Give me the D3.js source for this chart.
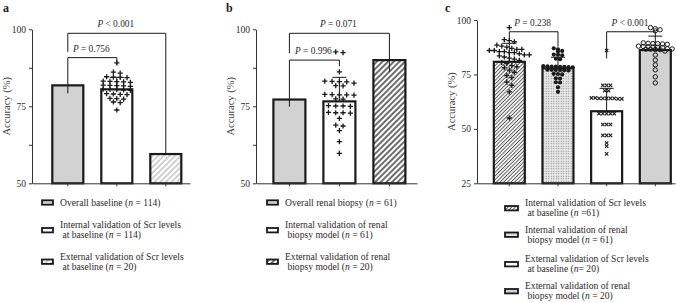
<!DOCTYPE html>
<html>
<head>
<meta charset="utf-8">
<script src="https://cdn.jsdelivr.net/npm/d3@7"></script>
<style>
  body { margin: 0; background: #fff; }
  svg, svg text { font-family: "Liberation Serif", "Times New Roman", serif; }
  svg { display: block; }
</style>
</head>
<body>
<svg id="chart" width="676" height="303"></svg>
<script>
// ---------- data ----------
const aCategories = ["overall", "internal", "external"];
const aMeans = [81.8, 80.5, 59.5];
const aSd = [0, 3.9, 0];
const aFills = ["grey", "white", "hatchLight"];
const aPoints = [89.1, 86.1, 85.8, 84.6, 84.4, 84.3, 84.5, 83.2, 83.0, 82.8, 83.1, 82.9,
    81.8, 81.7, 81.6, 81.9, 81.5, 80.5, 80.3, 80.4, 80.6, 80.2, 79.0, 78.8, 78.9, 79.1,
    77.5, 77.3, 77.6, 76.4, 76.2, 73.8];
const aBrackets = [
    { from: 0, to: 1, level: 90.8, leftEnd: 79.2, rightEnd: 88.5, text: " = 0.756" },
    { from: 0, to: 2, level: 98.7, leftEnd: 92.7, rightEnd: 59.5, text: " < 0.001" }
];
const aLegend = [
    ["Overall baseline (*n* = 114)"],
    ["Internal validation of Scr levels", " at baseline (*n* = 114)"],
    ["External validation of Scr levels", " at baseline (*n* = 20)"]
];

const bCategories = ["overall", "internal", "external"];
const bMeans = [77.2, 76.6, 90.0];
const bSd = [0, 7.8, 0];
const bFills = ["grey", "white", "hatchDark"];
const bPoints = [92.4, 92.7, 86.2, 83.2, 83.0, 83.1, 82.9, 82.5, 81.6, 81.7, 78.7, 78.6,
    78.9, 78.7, 78.8, 77.3, 77.4, 75.1, 75.2, 75.0, 75.1, 72.9, 73.0, 72.8, 72.9, 71.1,
    68.6, 68.9, 67.1, 63.5, 59.7];
const bBrackets = [
    { from: 0, to: 1, level: 90.0, leftEnd: 74.9, rightEnd: 88.0, text: " = 0.996" },
    { from: 0, to: 2, level: 98.7, leftEnd: 92.2, rightEnd: 86.2, text: " = 0.071" }
];
const bLegend = [
    ["Overall renal biopsy (*n* = 61)"],
    ["Internal validation of renal", " biopsy model (*n* = 61)"],
    ["External validation of renal", " biopsy model (*n* = 20)"]
];

const cCategories = ["intScr", "intBiopsy", "extScr", "extBiopsy"];
const cMeans = [80.8, 77.8, 58.1, 86.2];
const cSd = [8.5, 5.1, 10.5, 6.4];
const cFills = ["hatchDense", "dots", "white", "grey"];
const cMarkers = ["plus", "dot", "cross", "ring"];
const cPoints1 = [96.5, 91.0, 90.5, 90.0, 88.5, 88.0, 87.5, 87.0, 86.5, 86.5, 86.0, 86.0,
    85.5, 85.5, 85.0, 85.0, 84.5, 84.0, 84.0, 83.5, 83.0, 82.5, 82.0, 81.5, 80.5, 80.0,
    79.0, 78.5, 78.0, 77.0, 76.0, 74.5, 73.5, 71.5, 70.0, 67.0, 55.0];
const cPoints2 = [87.0, 86.5, 85.8, 85.5, 84.0, 83.8, 84.1, 82.0, 82.2, 78.8, 78.6, 78.5,
    78.7, 78.4, 78.6, 78.5, 78.3, 77.0, 77.2, 76.9, 77.1, 77.0, 76.8, 75.2, 75.3, 75.0,
    73.2, 73.1, 71.4, 71.3, 69.1, 67.0];
const cPoints3 = [86.0, 70.0, 70.0, 70.0, 67.5, 67.5, 64.0, 64.0, 64.2, 64.0, 63.8, 64.0,
    64.2, 63.8, 64.0, 57.0, 57.0, 57.0, 57.0, 57.0, 52.0, 52.0, 52.0, 47.0, 47.0, 47.0,
    43.5, 42.0, 38.5];
const cPoints4 = [96.5, 96.0, 95.5, 95.0, 89.5, 89.3, 89.0, 89.2, 88.8, 89.1, 88.0, 87.8,
    87.5, 87.6, 87.7, 87.4, 86.8, 86.6, 86.5, 86.7, 86.4, 86.6, 85.7, 83.9, 81.6, 79.4,
    77.1, 73.9, 71.1];
const cBrackets = [
    { from: 0, to: 1, level: 94.6, leftEnd: 90.8, rightEnd: 87.7, text: " = 0.238" },
    { from: 2, to: 3, level: 94.6, leftEnd: 82.4, rightEnd: 92.3, text: " < 0.001" }
];
const cLegend = [
    ["Internal validation of Scr levels", " at baseline (*n* =61)"],
    ["Internal validation of renal", " biopsy model (*n* = 61)"],
    ["External validation of Scr levels", " at baseline (*n*= 20)"],
    ["External validation of renal", " biopsy model (*n* = 20)"]
];

const ink = "#1a1a1a";
const textColor = "#2b2b2b";
const serif = "Liberation Serif";

let svg = d3.select("#chart");

// ---------- fill patterns ----------
let defs = svg.append("defs");
function addHatch(id, spacing, color, strokeWidth) {
    let p = defs.append("pattern")
        .attr("id", id)
        .attr("patternUnits", "userSpaceOnUse")
        .attr("width", spacing)
        .attr("height", spacing)
        .attr("patternTransform", "rotate(45)");
    p.append("rect").attr("width", spacing).attr("height", spacing).attr("fill", "#fff");
    p.append("line")
        .attr("x1", spacing / 2).attr("x2", spacing / 2)
        .attr("y1", 0).attr("y2", spacing)
        .attr("stroke", color)
        .attr("stroke-width", strokeWidth);
}
addHatch("hatchLight", 4, "#c6c6c6", 1.6);
addHatch("hatchDark", 4, "#6e6e6e", 2);
addHatch("hatchDense", 2.6, "#5a5a5a", 1);

let dots = defs.append("pattern")
    .attr("id", "dots")
    .attr("patternUnits", "userSpaceOnUse")
    .attr("width", 2.5)
    .attr("height", 2.5);
dots.append("rect").attr("width", 2.5).attr("height", 2.5).attr("fill", "#ececec");
dots.append("circle").attr("cx", 1.25).attr("cy", 1.25).attr("r", 0.7).attr("fill", "#8a8a8a");

function fillFor(key) {
    if (key == "grey") return "#d2d2d2";
    if (key == "white") return "#ffffff";
    return "url(#" + key + ")";
}

// ---------- helpers ----------
// write "*n*" parts in italics
function richText(sel, str) {
    let parts = str.split("*");
    parts.forEach(function(part, i) {
        if (part === "") return;
        sel.append("tspan")
            .style("font-style", i % 2 ? "italic" : "normal")
            .text(part);
    });
}

// GraphPad-like scatter: points with close values share a row, centred on the bar
function rowOffsets(values, yScale, dx, rowH) {
    let items = values.map(function(v, i) { return { i: i, y: yScale(v) }; })
        .sort(function(a, b) { return a.y - b.y; });
    let rows = [];
    for (let item of items) {
        let last = rows[rows.length - 1];
        if (last && item.y - last[0].y < rowH) last.push(item);
        else rows.push([item]);
    }
    let offsets = new Array(values.length).fill(0);
    for (let row of rows) {
        row.forEach(function(item, j) {
            offsets[item.i] = (j - (row.length - 1) / 2) * dx;
        });
    }
    return offsets;
}

function drawMarker(g, kind, cx, cy) {
    if (kind == "plus") {
        g.append("path")
            .attr("d", "M" + (cx - 2.6) + "," + cy + "h5.2M" + cx + "," + (cy - 2.6) + "v5.2")
            .attr("stroke", ink).attr("stroke-width", 1.3).attr("fill", "none");
    } else if (kind == "cross") {
        g.append("path")
            .attr("d", "M" + (cx - 1.7) + "," + (cy - 1.7) + "l3.4,3.4M" + (cx - 1.7) + "," + (cy + 1.7) + "l3.4,-3.4")
            .attr("stroke", ink).attr("stroke-width", 1.1).attr("fill", "none");
    } else if (kind == "dot") {
        g.append("circle").attr("cx", cx).attr("cy", cy).attr("r", 2.1).attr("fill", ink);
    } else if (kind == "ring") {
        g.append("circle").attr("cx", cx).attr("cy", cy).attr("r", 2.2)
            .attr("fill", "none").attr("stroke", ink).attr("stroke-width", 1);
    }
}

// ---------- one panel ----------
function drawPanel(p) {
    let g = svg.append("g");

    let xScale = d3.scaleBand()
        .domain(p.categories)
        .range([p.axisLeft, p.axisRight])
        .paddingInner(p.padInner)
        .paddingOuter(p.padOuter)
        .align(p.align);

    let yScale = d3.scaleLinear()
        .domain(p.yDomain)
        .range([183.3, p.yTop]);

    // bars
    g.selectAll(".bar")
        .data(p.means)
        .enter()
        .append("rect")
        .attr("x", function(d, i) { return xScale(p.categories[i]); })
        .attr("y", function(d) { return yScale(d); })
        .attr("width", xScale.bandwidth())
        .attr("height", function(d) { return yScale(p.yDomain[0]) - yScale(d); })
        .attr("fill", function(d, i) { return fillFor(p.fills[i]); })
        .attr("stroke", ink)
        .attr("stroke-width", 2.2);

    // individual points
    for (let s of p.scatter) {
        let cx0 = xScale(p.categories[s.bar]) + xScale.bandwidth() / 2;
        let offsets = rowOffsets(s.values, yScale, s.dx, s.rowH);
        s.values.forEach(function(v, i) {
            drawMarker(g, s.marker, cx0 + offsets[i], yScale(v));
        });
    }

    // error bars (upper half; lower half is hidden by the bar)
    p.means.forEach(function(m, i) {
        if (!p.sd[i]) return;
        let cx = xScale(p.categories[i]) + xScale.bandwidth() / 2;
        g.append("line")
            .attr("x1", cx).attr("x2", cx)
            .attr("y1", yScale(m)).attr("y2", yScale(m + p.sd[i]))
            .attr("stroke", ink).attr("stroke-width", 1);
        g.append("line")
            .attr("x1", cx - 7).attr("x2", cx + 7)
            .attr("y1", yScale(m + p.sd[i])).attr("y2", yScale(m + p.sd[i]))
            .attr("stroke", ink).attr("stroke-width", 1);
    });

    // significance brackets
    for (let b of p.brackets) {
        let x1 = xScale(p.categories[b.from]) + xScale.bandwidth() / 2;
        let x2 = xScale(p.categories[b.to]) + xScale.bandwidth() / 2;
        g.append("path")
            .attr("d", "M" + x1 + "," + yScale(b.leftEnd) +
                "V" + yScale(b.level) + "H" + x2 + "V" + yScale(b.rightEnd))
            .attr("fill", "none")
            .attr("stroke", ink)
            .attr("stroke-width", 1);
        let t = g.append("text")
            .attr("x", (x1 + x2) / 2 - 1)
            .attr("y", yScale(b.level) - 6)
            .style("font-family", serif)
            .style("text-anchor", "middle")
            .style("font-size", "9.4px")
            .style("fill", textColor);
        t.append("tspan").style("font-style", "italic").text("P");
        t.append("tspan").text(b.text);
    }

    // axes
    let yAxis = g.append("g")
        .attr("transform", "translate(" + p.axisLeft + ",0)")
        .call(d3.axisLeft(yScale)
            .tickValues(p.yTicks)
            .tickSize(3)
            .tickSizeOuter(0)
            .tickFormat(function(d) { return p.yLabels.indexOf(d) >= 0 ? d : ""; }));
    let xAxis = g.append("g")
        .attr("transform", "translate(0," + yScale(p.yDomain[0]) + ")")
        .call(d3.axisBottom(xScale).tickSize(3).tickSizeOuter(0).tickFormat(""));
    for (let ax of [yAxis, xAxis]) {
        ax.attr("font-family", serif);
        ax.select(".domain").attr("stroke", "#333");
        ax.selectAll(".tick line").attr("stroke", "#333");
        ax.selectAll("text")
            .style("font-family", serif)
            .style("font-size", "9.5px")
            .style("fill", textColor);
    }

    // y axis title
    g.append("text")
        .attr("transform", "translate(" + p.yTitleX + "," + ((183.3 + p.yTop) / 2) + ") rotate(-90)")
        .style("font-family", serif)
        .style("text-anchor", "middle")
        .style("font-size", "10.5px")
        .style("fill", "#444")
        .text("Accuracy (%)");

    // panel letter
    g.append("text")
        .attr("x", p.letterX)
        .attr("y", 12)
        .style("font-family", serif)
        .style("font-weight", "bold")
        .style("font-size", "12px")
        .style("fill", ink)
        .text(p.letter);

    // legend
    p.legend.forEach(function(lines, i) {
        let y0 = p.legendY[i];
        let midY = y0 - 3 + (lines.length - 1) * 5.2;
        g.append("rect")
            .attr("x", p.legendX)
            .attr("y", midY - 2.2)
            .attr("width", p.iconW)
            .attr("height", 4.4)
            .attr("fill", fillFor(p.fills[i]))
            .attr("stroke", ink)
            .attr("stroke-width", 1.8);
        lines.forEach(function(line, j) {
            let t = g.append("text")
                .attr("x", p.legendX + p.iconW + 7)
                .attr("y", y0 + j * 10.4)
                .attr("xml:space", "preserve")
                .style("white-space", "pre")
                .style("font-family", serif)
                .style("font-size", "9.6px")
                .style("fill", textColor);
            richText(t, line);
        });
    });
}

drawPanel({
    letter: "a", letterX: 3, yTitleX: 10,
    categories: aCategories, means: aMeans, sd: aSd, fills: aFills,
    scatter: [{ bar: 1, values: aPoints, marker: "plus", dx: 6.8, rowH: 3 }],
    brackets: aBrackets,
    axisLeft: 32, axisRight: 190, padInner: 0.367, padOuter: 0.296, align: 0.7,
    yDomain: [50, 100], yTop: 29.3, yTicks: [50, 62.5, 75, 87.5, 100], yLabels: [50, 75, 100],
    legend: aLegend, legendX: 42, legendY: [205.5, 228, 259.5], iconW: 11
});

drawPanel({
    letter: "b", letterX: 226, yTitleX: 234,
    categories: bCategories, means: bMeans, sd: bSd, fills: bFills,
    scatter: [{ bar: 1, values: bPoints, marker: "plus", dx: 7.3, rowH: 3 }],
    brackets: bBrackets,
    axisLeft: 256, axisRight: 417, padInner: 0.36, padOuter: 0.29, align: 0.6,
    yDomain: [50, 100], yTop: 29.3, yTicks: [50, 62.5, 75, 87.5, 100], yLabels: [50, 75, 100],
    legend: bLegend, legendX: 267, legendY: [205.5, 228, 259.5], iconW: 11
});

drawPanel({
    letter: "c", letterX: 445, yTitleX: 455,
    categories: cCategories, means: cMeans, sd: cSd, fills: cFills,
    scatter: [
        { bar: 0, values: cPoints1, marker: cMarkers[0], dx: 5, rowH: 5 },
        { bar: 1, values: cPoints2, marker: cMarkers[1], dx: 4.2, rowH: 3 },
        { bar: 2, values: cPoints3, marker: cMarkers[2], dx: 3.8, rowH: 3 },
        { bar: 3, values: cPoints4, marker: cMarkers[3], dx: 4.8, rowH: 3 }
    ],
    brackets: cBrackets,
    axisLeft: 477, axisRight: 675, padInner: 0.363, padOuter: 0.216, align: 0.8,
    yDomain: [25, 100], yTop: 20, yTicks: [25, 50, 75, 100], yLabels: [25, 50, 75, 100],
    legend: cLegend, legendX: 505, legendY: [206, 232.5, 262, 289], iconW: 13
});
</script>
</body>
</html>
